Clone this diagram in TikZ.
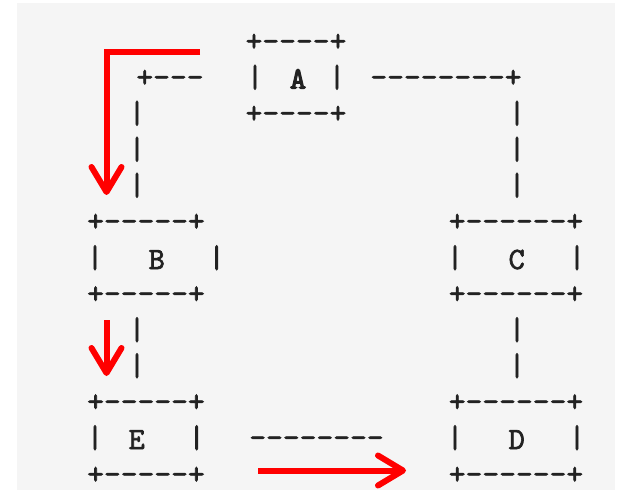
\documentclass[tikz,border=0pt]{standalone}
\usepackage{fontspec}
\newfontfamily\asciifont{lmmono10-regular.otf}[FakeBold=2]
\newfontfamily\asciibold{lmmono10-regular.otf}[FakeBold=3.5]
\usetikzlibrary{arrows.meta}
\definecolor{bgray}{HTML}{F5F5F5}
\definecolor{ink}{HTML}{222222}
\definecolor{redline}{HTML}{FF0000}
\tikzset{
  frame/.style={font=\asciifont\fontsize{32}{32}\selectfont, text=ink, inner sep=0pt, outer sep=0pt, anchor=base, yshift=-8pt},
  letter/.style={font=\asciifont\fontsize{31}{31}\selectfont, text=ink, inner sep=0pt, outer sep=0pt, anchor=base, yshift=-9.5pt},
  redarrow/.style={draw=redline, line width=6pt, line join=miter, -{Straight Barb[length=25pt,width=30pt,round]}},
}
\begin{document}
\begin{tikzpicture}[x=1pt,y=-1pt]
\useasboundingbox (0,0) rectangle (621,492);
\fill[bgray] (17,3) rectangle (615,490);
% box A
\node[frame] (Atop) at (296,43) {+----+};
\node[frame] (Abar1) at (255,79) {|};
\node[letter, font=\asciibold\fontsize{31}{31}\selectfont] (A) at (298,79) {A};
\node[frame] (Abar2) at (337,79) {|};
\node[frame] (Abot) at (296,115) {+----+};
% links from A
\node[frame] (Lh) at (170,79) {+---};
\node[frame] (Rh) at (446,79) {--------+};
\node[frame] (Lb1) at (137,115) {|};
\node[frame] (Lb2) at (137,151) {|};
\node[frame] (Lb3) at (137,187) {|};
\node[frame] (Rb1) at (517,115) {|};
\node[frame] (Rb2) at (517,151) {|};
\node[frame] (Rb3) at (517,187) {|};
% box B
\node[frame] (Btop) at (146,223) {+-----+};
\node[frame] (Bbar1) at (95,259.5) {|};
\node[letter] (B) at (156.7,259.5) {B};
\node[frame] (Bbar2) at (216.7,259.5) {|};
\node[frame] (Bbot) at (146,295.5) {+-----+};
% box C
\node[frame] (Ctop) at (516,223) {+------+};
\node[frame] (Cbar1) at (455,259.5) {|};
\node[letter] (C) at (516.7,259.5) {C};
\node[frame] (Cbar2) at (577,259.5) {|};
\node[frame] (Cbot) at (516,295.5) {+------+};
% links B-E, C-D
\node[frame] (Lb4) at (137,331.5) {|};
\node[frame] (Lb5) at (137,367.5) {|};
\node[frame] (Rb4) at (517,331.5) {|};
\node[frame] (Rb5) at (517,367.5) {|};
% box E
\node[frame] (Etop) at (146,403.5) {+-----+};
\node[frame] (Ebar1) at (95,439.5) {|};
\node[letter] (E) at (136.7,439.5) {E};
\node[frame] (Ebar2) at (196.7,439.5) {|};
\node[frame] (Ebot) at (146,476) {+-----+};
% box D
\node[frame] (Dtop) at (516,403.5) {+------+};
\node[frame] (Dbar1) at (455,439.5) {|};
\node[letter] (D) at (516.7,439.5) {D};
\node[frame] (Dbar2) at (577,439.5) {|};
\node[frame] (Dbot) at (516,476) {+------+};
% link E-D
\node[frame] (ED) at (316.5,439.5) {--------};
% red arrows
\coordinate (r1s) at (200,52);
\coordinate (r1c) at (106.5,52);
\coordinate (r1e) at (106.5,195);
\coordinate (r2s) at (106.5,320);
\coordinate (r2e) at (106.5,376);
\coordinate (r3s) at (258,470.5);
\coordinate (r3e) at (406,470.5);
\draw[redarrow] (r1s) -- (r1c) -- (r1e);
\draw[redarrow] (r2s) -- (r2e);
\draw[redarrow] (r3s) -- (r3e);
\end{tikzpicture}
\end{document}
